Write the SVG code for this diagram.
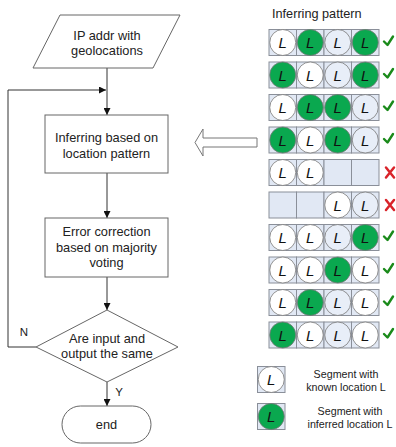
<svg xmlns="http://www.w3.org/2000/svg" width="396" height="447" viewBox="0 0 396 447">
<style>
.t{font-family:"Liberation Sans",Arial,sans-serif;font-size:12.8px;fill:#222;text-anchor:middle}
.s{font-family:"Liberation Sans",Arial,sans-serif;font-size:10.7px;fill:#222;text-anchor:middle}
.L{font-family:"Liberation Sans",Arial,sans-serif;font-size:15px;font-style:italic;fill:#111;text-anchor:middle}
.box{fill:#fff;stroke:#666;stroke-width:1}
.ln{fill:none;stroke:#333;stroke-width:1}
.cell{fill:#e1e8f4;stroke:#8a8f99;stroke-width:1}
.w{fill:#fff;stroke:#777;stroke-width:0.8}
.g{fill:#0aa84f;stroke:#777;stroke-width:0.8}
.b{fill:#e8eef8;stroke:#777;stroke-width:0.8}
.ok{fill:none;stroke:#1a8a1a;stroke-width:2.4;stroke-linecap:round;stroke-linejoin:round}
.no{fill:none;stroke:#d9232a;stroke-width:2.5;stroke-linecap:round}
</style>
<defs>
<marker id="ah" viewBox="0 0 10 10" refX="10" refY="5" markerWidth="7" markerHeight="7" orient="auto" markerUnits="userSpaceOnUse">
<path d="M0,0 L10,5 L0,10 z" fill="#111"/>
</marker>
<g id="cw"><circle r="13" class="w"/><text class="L" y="5.5">L</text></g>
<g id="cg"><circle r="13" class="g"/><text class="L" y="5.5">L</text></g>
<g id="cb"><circle r="13" class="b"/><text class="L" y="5.5">L</text></g>
<g id="row"><rect x="0" y="-13" width="27.5" height="26" class="cell"/><rect x="27.5" y="-13" width="27.5" height="26" class="cell"/><rect x="55" y="-13" width="27.5" height="26" class="cell"/><rect x="82.5" y="-13" width="27.5" height="26" class="cell"/></g>
<path id="chk" d="M384,41.5 L387.5,45 L393,36.5" class="ok"/>
</defs>

<g id="connectors">
<line x1="107" y1="68" x2="107" y2="115" class="ln" marker-end="url(#ah)"/>
<polyline points="36,347 8,347 8,90 106,90" class="ln" marker-end="url(#ah)"/>
<line x1="107" y1="173" x2="107" y2="218" class="ln" marker-end="url(#ah)"/>
<line x1="107" y1="277" x2="107" y2="310" class="ln" marker-end="url(#ah)"/>
<line x1="107" y1="382" x2="107" y2="406" class="ln" marker-end="url(#ah)"/>
<text class="s" x="24" y="336" style="font-size:11.5px">N</text>
<text class="s" x="119" y="396" style="font-size:11.5px">Y</text>
<path id="hollow-arrow" d="M257,138 L203,138 L203,129 L195,142.5 L203,156 L203,147 L257,147 z" fill="#fff" stroke="#777" stroke-width="1"/>
</g>

<g id="input">
<polygon points="60,15 180,15 153,68 33,68" class="box"/>
<text class="t" x="107" y="39.5">IP addr with</text>
<text class="t" x="107" y="55">geolocations</text>
</g>
<g id="infer">
<rect x="45" y="115" width="123" height="58" class="box"/>
<text class="t" x="106.5" y="141.5">Inferring based on</text>
<text class="t" x="106.5" y="157.5">location pattern</text>
</g>
<g id="correct">
<rect x="45" y="218" width="123" height="59" class="box"/>
<text class="t" x="106.5" y="235.5">Error correction</text>
<text class="t" x="106.5" y="251.5">based on majority</text>
<text class="t" x="106.5" y="266.5">voting</text>
</g>
<g id="decision">
<polygon points="107,310 178,347 107,382 36,347" class="box"/>
<text class="t" x="107" y="342.5">Are input and</text>
<text class="t" x="107" y="358">output the same</text>
</g>
<g id="end">
<rect x="62" y="406" width="89" height="37" rx="18.5" class="box"/>
<text class="t" x="106.5" y="428.5">end</text>
</g>

<g id="patterns">
<text class="s" x="272" y="18" style="text-anchor:start;font-size:12.7px">Inferring pattern</text>
<g transform="translate(269,42.5)"><use href="#row"/><use href="#cw" x="13.75"/><use href="#cg" x="41.25"/><use href="#cb" x="68.75"/><use href="#cg" x="96.25"/></g>
<g transform="translate(269,75)"><use href="#row"/><use href="#cg" x="13.75"/><use href="#cw" x="41.25"/><use href="#cb" x="68.75"/><use href="#cg" x="96.25"/></g>
<g transform="translate(269,107.5)"><use href="#row"/><use href="#cw" x="13.75"/><use href="#cg" x="41.25"/><use href="#cg" x="68.75"/><use href="#cb" x="96.25"/></g>
<g transform="translate(269,140)"><use href="#row"/><use href="#cg" x="13.75"/><use href="#cw" x="41.25"/><use href="#cg" x="68.75"/><use href="#cb" x="96.25"/></g>
<g transform="translate(269,172.5)"><use href="#row"/><use href="#cw" x="13.75"/><use href="#cw" x="41.25"/></g>
<g transform="translate(269,205)"><use href="#row"/><use href="#cw" x="68.75"/><use href="#cb" x="96.25"/></g>
<g transform="translate(269,237.5)"><use href="#row"/><use href="#cw" x="13.75"/><use href="#cw" x="41.25"/><use href="#cb" x="68.75"/><use href="#cg" x="96.25"/></g>
<g transform="translate(269,270)"><use href="#row"/><use href="#cw" x="13.75"/><use href="#cw" x="41.25"/><use href="#cg" x="68.75"/><use href="#cw" x="96.25"/></g>
<g transform="translate(269,302.5)"><use href="#row"/><use href="#cw" x="13.75"/><use href="#cg" x="41.25"/><use href="#cb" x="68.75"/><use href="#cw" x="96.25"/></g>
<g transform="translate(269,335)"><use href="#row"/><use href="#cg" x="13.75"/><use href="#cw" x="41.25"/><use href="#cb" x="68.75"/><use href="#cw" x="96.25"/></g>
<use href="#chk"/>
<use href="#chk" y="32.5"/>
<use href="#chk" y="65"/>
<use href="#chk" y="97.5"/>
<path d="M386,167.5 L394,177.5 M394,167.5 L386,177.5" class="no"/>
<path d="M386,200 L394,210 M394,200 L386,210" class="no"/>
<use href="#chk" y="195"/>
<use href="#chk" y="227.5"/>
<use href="#chk" y="260"/>
<use href="#chk" y="292.5"/>
</g>

<g id="legend">
<rect x="257.5" y="366.5" width="27.5" height="26" class="cell"/>
<use href="#cw" x="271.25" y="379.5"/>
<text class="s" x="346" y="378">Segment with</text>
<text class="s" x="346" y="391">known location L</text>
<rect x="257.5" y="403.5" width="27.5" height="26" class="cell"/>
<use href="#cg" x="271.25" y="416.5"/>
<text class="s" x="350" y="415">Segment with</text>
<text class="s" x="350" y="428">inferred location L</text>
</g>
</svg>
